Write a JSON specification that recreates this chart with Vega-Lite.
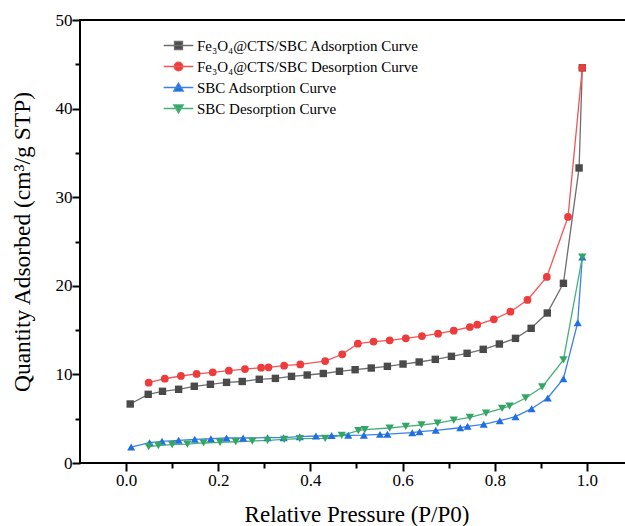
{
  "$schema": "https://vega.github.io/schema/vega-lite/v6.json",
  "autosize": "none",
  "padding": {"left": 80, "top": 20, "right": 0, "bottom": 63},
  "width": 553,
  "height": 443,
  "background": "white",
  "config": {
    "view": {"stroke": "black", "strokeWidth": 2},
    "font": "Liberation Serif",
    "axis": {
      "domain": false,
      "ticks": true,
      "grid": false,
      "tickColor": "black",
      "tickWidth": 2,
      "tickOpacity": 1,
      "labelFont": "Liberation Serif",
      "labelFontSize": 17,
      "labelColor": "black",
      "titleFont": "Liberation Serif",
      "titleFontWeight": "normal",
      "titleColor": "black"
    }
  },
  "data": {
    "values": [
      {"s": "Fe₃O₄@CTS/SBC Adsorption Curve", "x": 0.009, "y": 6.66},
      {"s": "Fe₃O₄@CTS/SBC Adsorption Curve", "x": 0.048, "y": 7.75},
      {"s": "Fe₃O₄@CTS/SBC Adsorption Curve", "x": 0.079, "y": 8.09},
      {"s": "Fe₃O₄@CTS/SBC Adsorption Curve", "x": 0.114, "y": 8.32},
      {"s": "Fe₃O₄@CTS/SBC Adsorption Curve", "x": 0.148, "y": 8.66},
      {"s": "Fe₃O₄@CTS/SBC Adsorption Curve", "x": 0.183, "y": 8.88},
      {"s": "Fe₃O₄@CTS/SBC Adsorption Curve", "x": 0.218, "y": 9.1},
      {"s": "Fe₃O₄@CTS/SBC Adsorption Curve", "x": 0.252, "y": 9.2},
      {"s": "Fe₃O₄@CTS/SBC Adsorption Curve", "x": 0.289, "y": 9.45},
      {"s": "Fe₃O₄@CTS/SBC Adsorption Curve", "x": 0.324, "y": 9.55},
      {"s": "Fe₃O₄@CTS/SBC Adsorption Curve", "x": 0.359, "y": 9.78},
      {"s": "Fe₃O₄@CTS/SBC Adsorption Curve", "x": 0.393, "y": 9.93},
      {"s": "Fe₃O₄@CTS/SBC Adsorption Curve", "x": 0.428, "y": 10.1},
      {"s": "Fe₃O₄@CTS/SBC Adsorption Curve", "x": 0.463, "y": 10.35},
      {"s": "Fe₃O₄@CTS/SBC Adsorption Curve", "x": 0.497, "y": 10.53},
      {"s": "Fe₃O₄@CTS/SBC Adsorption Curve", "x": 0.532, "y": 10.72},
      {"s": "Fe₃O₄@CTS/SBC Adsorption Curve", "x": 0.567, "y": 10.91},
      {"s": "Fe₃O₄@CTS/SBC Adsorption Curve", "x": 0.601, "y": 11.17},
      {"s": "Fe₃O₄@CTS/SBC Adsorption Curve", "x": 0.636, "y": 11.4},
      {"s": "Fe₃O₄@CTS/SBC Adsorption Curve", "x": 0.671, "y": 11.7},
      {"s": "Fe₃O₄@CTS/SBC Adsorption Curve", "x": 0.706, "y": 12.04},
      {"s": "Fe₃O₄@CTS/SBC Adsorption Curve", "x": 0.74, "y": 12.38},
      {"s": "Fe₃O₄@CTS/SBC Adsorption Curve", "x": 0.775, "y": 12.83},
      {"s": "Fe₃O₄@CTS/SBC Adsorption Curve", "x": 0.81, "y": 13.43},
      {"s": "Fe₃O₄@CTS/SBC Adsorption Curve", "x": 0.845, "y": 14.07},
      {"s": "Fe₃O₄@CTS/SBC Adsorption Curve", "x": 0.879, "y": 15.2},
      {"s": "Fe₃O₄@CTS/SBC Adsorption Curve", "x": 0.914, "y": 16.93},
      {"s": "Fe₃O₄@CTS/SBC Adsorption Curve", "x": 0.949, "y": 20.28},
      {"s": "Fe₃O₄@CTS/SBC Adsorption Curve", "x": 0.983, "y": 33.3},
      {"s": "Fe₃O₄@CTS/SBC Adsorption Curve", "x": 0.99, "y": 44.6},
      {"s": "Fe₃O₄@CTS/SBC  Desorption Curve", "x": 0.049, "y": 9.07},
      {"s": "Fe₃O₄@CTS/SBC  Desorption Curve", "x": 0.084, "y": 9.51},
      {"s": "Fe₃O₄@CTS/SBC  Desorption Curve", "x": 0.119, "y": 9.82},
      {"s": "Fe₃O₄@CTS/SBC  Desorption Curve", "x": 0.153, "y": 10.05},
      {"s": "Fe₃O₄@CTS/SBC  Desorption Curve", "x": 0.188, "y": 10.23},
      {"s": "Fe₃O₄@CTS/SBC  Desorption Curve", "x": 0.223, "y": 10.42},
      {"s": "Fe₃O₄@CTS/SBC  Desorption Curve", "x": 0.258, "y": 10.6},
      {"s": "Fe₃O₄@CTS/SBC  Desorption Curve", "x": 0.293, "y": 10.76},
      {"s": "Fe₃O₄@CTS/SBC  Desorption Curve", "x": 0.309, "y": 10.8},
      {"s": "Fe₃O₄@CTS/SBC  Desorption Curve", "x": 0.343, "y": 10.98},
      {"s": "Fe₃O₄@CTS/SBC  Desorption Curve", "x": 0.378, "y": 11.13},
      {"s": "Fe₃O₄@CTS/SBC  Desorption Curve", "x": 0.432, "y": 11.5},
      {"s": "Fe₃O₄@CTS/SBC  Desorption Curve", "x": 0.469, "y": 12.27},
      {"s": "Fe₃O₄@CTS/SBC  Desorption Curve", "x": 0.503, "y": 13.47},
      {"s": "Fe₃O₄@CTS/SBC  Desorption Curve", "x": 0.537, "y": 13.7},
      {"s": "Fe₃O₄@CTS/SBC  Desorption Curve", "x": 0.572, "y": 13.85},
      {"s": "Fe₃O₄@CTS/SBC  Desorption Curve", "x": 0.607, "y": 14.07},
      {"s": "Fe₃O₄@CTS/SBC  Desorption Curve", "x": 0.642, "y": 14.33},
      {"s": "Fe₃O₄@CTS/SBC  Desorption Curve", "x": 0.677, "y": 14.6},
      {"s": "Fe₃O₄@CTS/SBC  Desorption Curve", "x": 0.711, "y": 14.93},
      {"s": "Fe₃O₄@CTS/SBC  Desorption Curve", "x": 0.746, "y": 15.35},
      {"s": "Fe₃O₄@CTS/SBC  Desorption Curve", "x": 0.762, "y": 15.61},
      {"s": "Fe₃O₄@CTS/SBC  Desorption Curve", "x": 0.798, "y": 16.22},
      {"s": "Fe₃O₄@CTS/SBC  Desorption Curve", "x": 0.834, "y": 17.08},
      {"s": "Fe₃O₄@CTS/SBC  Desorption Curve", "x": 0.871, "y": 18.4},
      {"s": "Fe₃O₄@CTS/SBC  Desorption Curve", "x": 0.913, "y": 21.0},
      {"s": "Fe₃O₄@CTS/SBC  Desorption Curve", "x": 0.959, "y": 27.77},
      {"s": "Fe₃O₄@CTS/SBC  Desorption Curve", "x": 0.99, "y": 44.6},
      {"s": "SBC Adsorption Curve", "x": 0.011, "y": 1.8},
      {"s": "SBC Adsorption Curve", "x": 0.051, "y": 2.3},
      {"s": "SBC Adsorption Curve", "x": 0.078, "y": 2.45},
      {"s": "SBC Adsorption Curve", "x": 0.114, "y": 2.56},
      {"s": "SBC Adsorption Curve", "x": 0.149, "y": 2.67},
      {"s": "SBC Adsorption Curve", "x": 0.184, "y": 2.74},
      {"s": "SBC Adsorption Curve", "x": 0.218, "y": 2.82},
      {"s": "SBC Adsorption Curve", "x": 0.254, "y": 2.82},
      {"s": "SBC Adsorption Curve", "x": 0.307, "y": 2.86},
      {"s": "SBC Adsorption Curve", "x": 0.342, "y": 2.86},
      {"s": "SBC Adsorption Curve", "x": 0.377, "y": 2.97},
      {"s": "SBC Adsorption Curve", "x": 0.412, "y": 3.05},
      {"s": "SBC Adsorption Curve", "x": 0.446, "y": 3.1},
      {"s": "SBC Adsorption Curve", "x": 0.482, "y": 3.12},
      {"s": "SBC Adsorption Curve", "x": 0.516, "y": 3.14},
      {"s": "SBC Adsorption Curve", "x": 0.551, "y": 3.23},
      {"s": "SBC Adsorption Curve", "x": 0.567, "y": 3.25},
      {"s": "SBC Adsorption Curve", "x": 0.621, "y": 3.42},
      {"s": "SBC Adsorption Curve", "x": 0.637, "y": 3.53},
      {"s": "SBC Adsorption Curve", "x": 0.672, "y": 3.69},
      {"s": "SBC Adsorption Curve", "x": 0.725, "y": 3.98},
      {"s": "SBC Adsorption Curve", "x": 0.741, "y": 4.14},
      {"s": "SBC Adsorption Curve", "x": 0.776, "y": 4.37},
      {"s": "SBC Adsorption Curve", "x": 0.811, "y": 4.77},
      {"s": "SBC Adsorption Curve", "x": 0.845, "y": 5.23},
      {"s": "SBC Adsorption Curve", "x": 0.88, "y": 6.13},
      {"s": "SBC Adsorption Curve", "x": 0.915, "y": 7.34},
      {"s": "SBC Adsorption Curve", "x": 0.949, "y": 9.51},
      {"s": "SBC Adsorption Curve", "x": 0.98, "y": 15.84},
      {"s": "SBC Adsorption Curve", "x": 0.99, "y": 23.25},
      {"s": "SBC Desorption Curve", "x": 0.049, "y": 1.84},
      {"s": "SBC Desorption Curve", "x": 0.07, "y": 1.95},
      {"s": "SBC Desorption Curve", "x": 0.1, "y": 2.07},
      {"s": "SBC Desorption Curve", "x": 0.133, "y": 2.14},
      {"s": "SBC Desorption Curve", "x": 0.168, "y": 2.26},
      {"s": "SBC Desorption Curve", "x": 0.204, "y": 2.33},
      {"s": "SBC Desorption Curve", "x": 0.238, "y": 2.4},
      {"s": "SBC Desorption Curve", "x": 0.274, "y": 2.48},
      {"s": "SBC Desorption Curve", "x": 0.307, "y": 2.56},
      {"s": "SBC Desorption Curve", "x": 0.343, "y": 2.67},
      {"s": "SBC Desorption Curve", "x": 0.377, "y": 2.74},
      {"s": "SBC Desorption Curve", "x": 0.432, "y": 2.78},
      {"s": "SBC Desorption Curve", "x": 0.468, "y": 3.12},
      {"s": "SBC Desorption Curve", "x": 0.504, "y": 3.65},
      {"s": "SBC Desorption Curve", "x": 0.518, "y": 3.76},
      {"s": "SBC Desorption Curve", "x": 0.572, "y": 3.95},
      {"s": "SBC Desorption Curve", "x": 0.607, "y": 4.14},
      {"s": "SBC Desorption Curve", "x": 0.641, "y": 4.29},
      {"s": "SBC Desorption Curve", "x": 0.676, "y": 4.51},
      {"s": "SBC Desorption Curve", "x": 0.711, "y": 4.85},
      {"s": "SBC Desorption Curve", "x": 0.746, "y": 5.16},
      {"s": "SBC Desorption Curve", "x": 0.781, "y": 5.64},
      {"s": "SBC Desorption Curve", "x": 0.816, "y": 6.17},
      {"s": "SBC Desorption Curve", "x": 0.832, "y": 6.43},
      {"s": "SBC Desorption Curve", "x": 0.867, "y": 7.34},
      {"s": "SBC Desorption Curve", "x": 0.903, "y": 8.58},
      {"s": "SBC Desorption Curve", "x": 0.949, "y": 11.63},
      {"s": "SBC Desorption Curve", "x": 0.99, "y": 23.25}
    ]
  },
  "layer": [
    {
      "mark": {"type": "line", "strokeWidth": 1.3},
      "encoding": {
        "x": {
          "field": "x", "type": "quantitative",
          "scale": {"domain": [-0.1, 1.1], "nice": false, "zero": false},
          "axis": {
            "orient": "bottom",
            "title": "Relative Pressure (P/P0)",
            "titleFontSize": 23,
            "values": [0, 0.2, 0.4, 0.6, 0.8, 1.0],
            "format": ".1f",
            "tickSize": 8,
            "labelPadding": 1,
            "titlePadding": 15,
            "labelFlush": false
          }
        },
        "y": {
          "field": "y", "type": "quantitative",
          "scale": {"domain": [0, 50], "nice": false},
          "axis": {
            "orient": "left",
            "title": "Quantity Adsorbed (cm³/g STP)",
            "titleFontSize": 23.5,
            "values": [0, 10, 20, 30, 40, 50],
            "tickSize": 8,
            "labelPadding": 0,
            "titlePadding": 21,
            "labelFlush": false
          }
        },
        "color": {
          "field": "s", "type": "nominal", "legend": null,
          "scale": {
            "domain": ["Fe₃O₄@CTS/SBC Adsorption Curve", "Fe₃O₄@CTS/SBC  Desorption Curve", "SBC Adsorption Curve", "SBC Desorption Curve"],
            "range": ["#6e6e6e", "#f05555", "#3b82e6", "#46b077"]
          }
        }
      }
    },
    {
      "mark": {"type": "point", "filled": true, "opacity": 1},
      "encoding": {
        "x": {
          "field": "x", "type": "quantitative",
          "axis": {
            "orient": "bottom",
            "title": null,
            "values": [0.1, 0.3, 0.5, 0.7, 0.9, 1.1],
            "labels": false,
            "tickSize": 5
          }
        },
        "y": {
          "field": "y", "type": "quantitative",
          "axis": {
            "orient": "left",
            "title": null,
            "values": [5, 15, 25, 35, 45],
            "labels": false,
            "tickSize": 5
          }
        },
        "color": {
          "field": "s", "type": "nominal", "legend": null,
          "scale": {
            "domain": ["Fe₃O₄@CTS/SBC Adsorption Curve", "Fe₃O₄@CTS/SBC  Desorption Curve", "SBC Adsorption Curve", "SBC Desorption Curve"],
            "range": ["#4a4a4a", "#ee3b3b", "#1f6fe0", "#35a566"]
          }
        },
        "shape": {
          "field": "s", "type": "nominal", "legend": null,
          "scale": {
            "domain": ["Fe₃O₄@CTS/SBC Adsorption Curve", "Fe₃O₄@CTS/SBC  Desorption Curve", "SBC Adsorption Curve", "SBC Desorption Curve"],
            "range": ["square", "circle", "triangle-up", "triangle-down"]
          }
        },
        "size": {
          "field": "s", "type": "nominal", "legend": null,
          "scale": {
            "domain": ["Fe₃O₄@CTS/SBC Adsorption Curve", "Fe₃O₄@CTS/SBC  Desorption Curve", "SBC Adsorption Curve", "SBC Desorption Curve"],
            "range": [55, 70, 70, 70]
          }
        }
      }
    },
    {
      "transform": [{"filter": "false"}],
      "mark": {"type": "point", "filled": true, "size": 64, "strokeWidth": 1.3, "opacity": 1},
      "encoding": {
        "x": {"field": "x", "type": "quantitative", "axis": null},
        "y": {"field": "y", "type": "quantitative", "axis": null},
        "fill": {
          "field": "s", "type": "nominal",
          "scale": {
            "domain": ["Fe₃O₄@CTS/SBC Adsorption Curve", "Fe₃O₄@CTS/SBC  Desorption Curve", "SBC Adsorption Curve", "SBC Desorption Curve"],
            "range": ["#4a4a4a", "#ee3b3b", "#1f6fe0", "#35a566"]
          },
          "legend": {
            "title": null, "orient": "none", "legendX": 91, "legendY": 18, "padding": 0, "rowPadding": 5,
            "labelFont": "Liberation Serif", "labelFontSize": 15, "labelColor": "black", "labelOffset": 11, "labelLimit": 400,
            "symbolSize": 64, "symbolStrokeWidth": 1.3, "symbolOpacity": 1
          }
        },
        "stroke": {
          "field": "s", "type": "nominal",
          "scale": {
            "domain": ["Fe₃O₄@CTS/SBC Adsorption Curve", "Fe₃O₄@CTS/SBC  Desorption Curve", "SBC Adsorption Curve", "SBC Desorption Curve"],
            "range": ["#6e6e6e", "#f05555", "#3b82e6", "#46b077"]
          },
          "legend": {
            "title": null, "orient": "none", "legendX": 91, "legendY": 18, "padding": 0, "rowPadding": 5,
            "labelFont": "Liberation Serif", "labelFontSize": 15, "labelColor": "black", "labelOffset": 11, "labelLimit": 400,
            "symbolSize": 64, "symbolStrokeWidth": 1.3, "symbolOpacity": 1
          }
        },
        "shape": {
          "field": "s", "type": "nominal",
          "scale": {
            "domain": ["Fe₃O₄@CTS/SBC Adsorption Curve", "Fe₃O₄@CTS/SBC  Desorption Curve", "SBC Adsorption Curve", "SBC Desorption Curve"],
            "range": ["M-3.7,0H3.7M-1,-1H1V1H-1Z", "M-3.7,0H3.7M-1.1,0A1.1,1.1 0 1,0 1.1,0A1.1,1.1 0 1,0 -1.1,0Z", "M-3.7,0H3.7M0,-1.1L1.2,0.9H-1.2Z", "M-3.7,0H3.7M0,1.1L1.2,-0.9H-1.2Z"]
          },
          "legend": {
            "title": null, "orient": "none", "legendX": 91, "legendY": 18, "padding": 0, "rowPadding": 5,
            "labelFont": "Liberation Serif", "labelFontSize": 15, "labelColor": "black", "labelOffset": 11, "labelLimit": 400,
            "symbolSize": 64, "symbolStrokeWidth": 1.3, "symbolOpacity": 1
          }
        }
      }
    }
  ],
  "resolve": {
    "scale": {"color": "independent", "shape": "independent", "fill": "independent", "stroke": "independent"},
    "axis": {"x": "independent", "y": "independent"}
  }
}
